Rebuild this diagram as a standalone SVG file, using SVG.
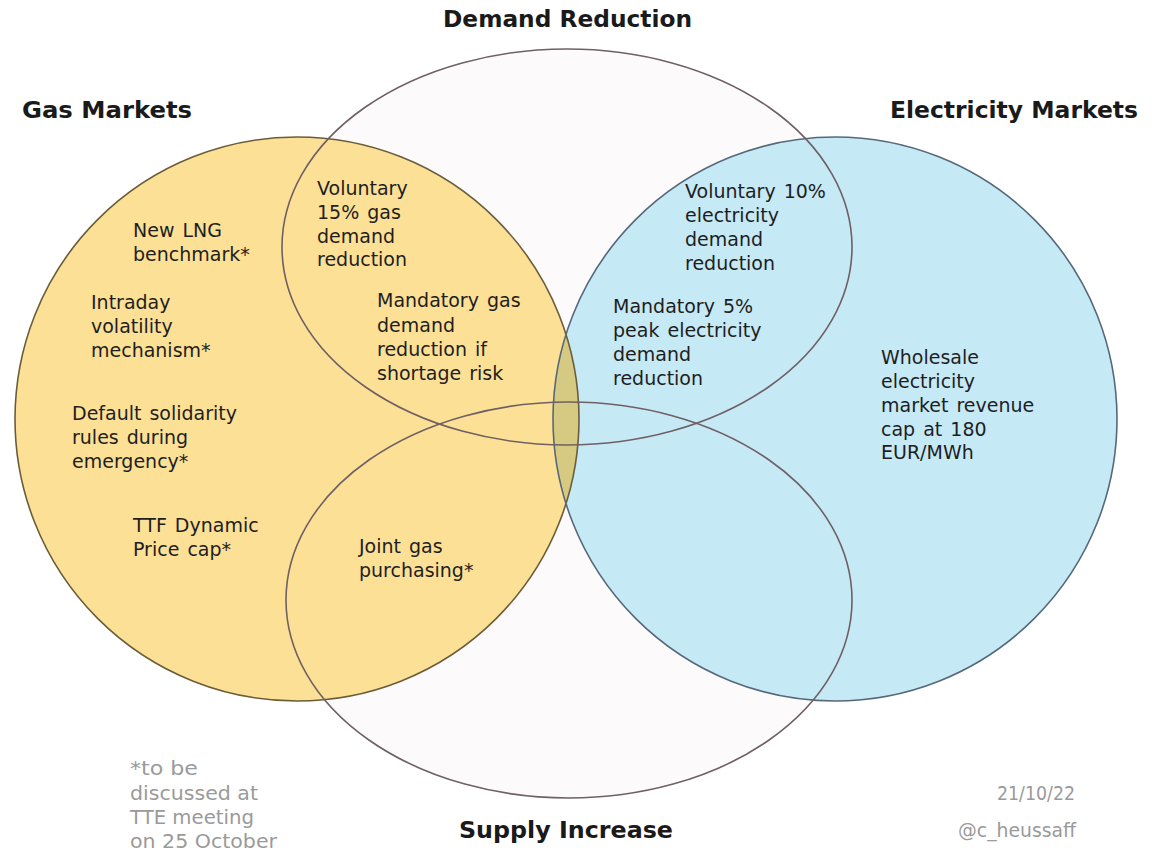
<svg xmlns="http://www.w3.org/2000/svg" width="1164" height="852" viewBox="0 0 1164 852">
<style>
.title{font-family:"DejaVu Sans","Liberation Sans",sans-serif;font-weight:bold;font-size:23px;fill:#1a1a1a}
.body{font-family:"DejaVu Sans","Liberation Sans",sans-serif;font-size:19px;fill:#1e1e1e;word-spacing:2px}
.note{font-family:"DejaVu Sans Condensed","DejaVu Sans",sans-serif;font-size:19px;fill:#9a9a9a}
.soft{fill:#fcfafa;stroke:none}
.edge-set{fill:none;stroke:#6f6065;stroke-width:1.6}
</style>
<defs>
<clipPath id="blueClip"><circle cx="835" cy="419" r="282"/></clipPath>
</defs>
<rect width="1164" height="852" fill="#ffffff"/>
<g id="fills">
<ellipse class="soft" cx="567" cy="247" rx="285" ry="198"/>
<ellipse class="soft" cx="569" cy="600" rx="283" ry="198"/>
<circle cx="297" cy="419" r="282" fill="#fce096"/>
<circle cx="835" cy="419" r="282" fill="#c6e9f6"/>
<circle cx="297" cy="419" r="282" fill="#d6c982" clip-path="url(#blueClip)"/>
</g>
<g id="node-gas">
<circle cx="297" cy="419" r="282" fill="none" stroke="#6b5d3a" stroke-width="1.6"/>
<text class="title" x="22" y="118" textLength="170" lengthAdjust="spacingAndGlyphs">Gas Markets</text>
<text class="body" x="133" y="237"><tspan x="133">New LNG</tspan><tspan x="133" dy="23.5">benchmark*</tspan></text>
<text class="body" x="91" y="309"><tspan x="91">Intraday</tspan><tspan x="91" dy="24">volatility</tspan><tspan x="91" dy="24">mechanism*</tspan></text>
<text class="body" x="72" y="420"><tspan x="72">Default solidarity</tspan><tspan x="72" dy="24">rules during</tspan><tspan x="72" dy="24">emergency*</tspan></text>
<text class="body" x="133" y="532"><tspan x="133">TTF Dynamic</tspan><tspan x="133" dy="24">Price cap*</tspan></text>
</g>
<g id="node-electricity">
<circle cx="835" cy="419" r="282" fill="none" stroke="#55697a" stroke-width="1.6"/>
<text class="title" x="890" y="118" textLength="248" lengthAdjust="spacingAndGlyphs">Electricity Markets</text>
<text class="body" x="881" y="364"><tspan x="881">Wholesale</tspan><tspan x="881" dy="24">electricity</tspan><tspan x="881" dy="24">market revenue</tspan><tspan x="881" dy="23.5">cap at 180</tspan><tspan x="881" dy="23.5">EUR/MWh</tspan></text>
</g>
<g id="node-demand">
<ellipse class="edge-set" cx="567" cy="247" rx="285" ry="198"/>
<text class="title" x="443" y="27" textLength="249" lengthAdjust="spacingAndGlyphs">Demand Reduction</text>
<text class="body" x="317" y="195"><tspan x="317">Voluntary</tspan><tspan x="317" dy="23.5">15% gas</tspan><tspan x="317" dy="24">demand</tspan><tspan x="317" dy="23.5">reduction</tspan></text>
<text class="body" x="377" y="307"><tspan x="377">Mandatory gas</tspan><tspan x="377" dy="24.5">demand</tspan><tspan x="377" dy="24">reduction if</tspan><tspan x="377" dy="24">shortage risk</tspan></text>
<text class="body" x="685" y="198"><tspan x="685">Voluntary 10%</tspan><tspan x="685" dy="24">electricity</tspan><tspan x="685" dy="24">demand</tspan><tspan x="685" dy="24">reduction</tspan></text>
<text class="body" x="613" y="313"><tspan x="613">Mandatory 5%</tspan><tspan x="613" dy="24">peak electricity</tspan><tspan x="613" dy="24">demand</tspan><tspan x="613" dy="24">reduction</tspan></text>
</g>
<g id="node-supply">
<ellipse class="edge-set" cx="569" cy="600" rx="283" ry="198"/>
<text class="title" x="459" y="838" textLength="214" lengthAdjust="spacingAndGlyphs">Supply Increase</text>
<text class="body" x="359" y="553"><tspan x="359">Joint gas</tspan><tspan x="359" dy="24">purchasing*</tspan></text>
</g>
<g id="connectors"></g>
<g id="notes">
<text class="note" x="130" y="775" textLength="68" lengthAdjust="spacingAndGlyphs">*to be</text>
<text class="note" x="130" y="800" textLength="128" lengthAdjust="spacingAndGlyphs">discussed at</text>
<text class="note" x="130" y="824" textLength="124" lengthAdjust="spacingAndGlyphs">TTE meeting</text>
<text class="note" x="130" y="848" textLength="147" lengthAdjust="spacingAndGlyphs">on 25 October</text>
<text class="note" x="997" y="800" textLength="78" lengthAdjust="spacingAndGlyphs">21/10/22</text>
<text class="note" x="958" y="837" textLength="118" lengthAdjust="spacingAndGlyphs">@c_heussaff</text>
</g>
</svg>
